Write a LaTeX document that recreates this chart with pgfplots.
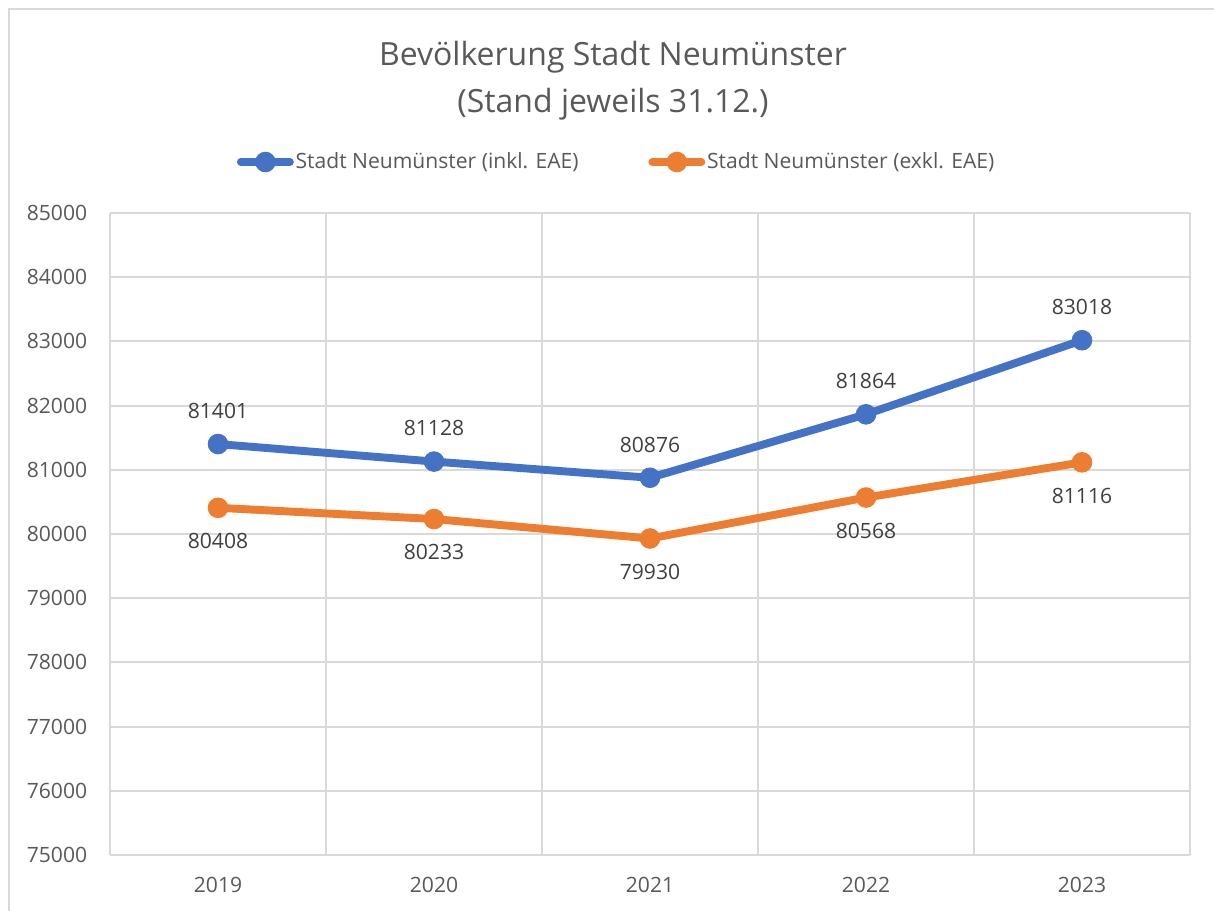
\documentclass[border=0pt]{standalone}
\usepackage{fontspec}
\setmainfont{Open Sans}
\usepackage{pgfplots}
\pgfplotsset{compat=1.18}
\definecolor{exblue}{HTML}{4472C4}
\definecolor{exorange}{HTML}{ED7D31}
\definecolor{gridgray}{HTML}{D9D9D9}
\definecolor{txtgray}{HTML}{595959}
\definecolor{lblgray}{HTML}{404040}

\begin{document}
\begin{tikzpicture}
% 1 px of the reference = 0.2mm
\path[use as bounding box] (0,0) rectangle (242.8mm,182.2mm);
\draw[gridgray, line width=1.1pt] (1.8mm,0) -- (1.8mm,180.4mm) -- (242.8mm,180.4mm);
\node[txtgray, anchor=base, inner sep=0, font=\fontsize{18.2}{21}\selectfont] at (122.6mm,169mm) {Bevölkerung Stadt Neumünster};
\node[txtgray, anchor=base, inner sep=0, font=\fontsize{18.2}{21}\selectfont] at (122.6mm,159.6mm) {(Stand jeweils 31.12.)};
\begin{axis}[
  at={(22mm,11.2mm)}, anchor=south west,
  width=216mm, height=128.4mm, scale only axis,
  xmin=-0.5, xmax=4.5, ymin=75000, ymax=85000,
  xtick={0,1,2,3,4},
  xticklabels={2019,2020,2021,2022,2023},
  ytick={75000,76000,...,85000},
  scaled y ticks=false,
  yticklabel={\pgfmathprintnumber[fixed,precision=0,1000 sep={}]{\tick}},
  minor xtick={-0.5,0.5,1.5,2.5,3.5,4.5},
  ymajorgrids=true, xminorgrids=true,
  grid style={gridgray, line width=1.1pt},
  minor grid style={gridgray, line width=1.1pt},
  axis line style={draw=none},
  major tick length=0pt, minor tick length=0pt,
  /pgf/number format/1000 sep={},
  /pgf/number format/assume math mode=true,
  tick label style={font=\fontsize{12}{14}\selectfont, text=txtgray, inner sep=0pt},
  yticklabel style={xshift=-4.5mm},
  xticklabel style={yshift=-4.4mm},
  clip=false,
  legend columns=2,
  legend cell align=left,
  legend style={at={(0.469,1.0794)}, anchor=center, draw=none, fill=none,
    font=\fontsize{12}{14}\selectfont, text=txtgray,
    nodes={inner sep=1pt},
    /tikz/every even column/.style={column sep=13.6mm}},
  legend image code/.code={
    \draw[mark repeat=2, mark phase=2, #1] plot coordinates {(0mm,0mm) (4.9mm,0mm) (9.8mm,0mm)};},
  every node near coord/.append style={font=\fontsize{12}{14}\selectfont, text=lblgray, inner sep=0pt},
]
\addplot[exblue, line width=4.5pt, line cap=round, line join=round,
  mark=*, mark size=5.6pt, mark options={line width=0.5pt, fill=exblue},
  point meta=explicit symbolic, nodes near coords,
  every node near coord/.append style={anchor=south, yshift=5mm}]
  coordinates {(0,81401) [81401] (1,81128) [81128] (2,80876) [80876] (3,81864) [81864] (4,83018) [83018]};
\addlegendentry{Stadt Neumünster (inkl. EAE)}
\addplot[exorange, line width=4.5pt, line cap=round, line join=round,
  mark=*, mark size=5.6pt, mark options={line width=0.5pt, fill=exorange},
  point meta=explicit symbolic, nodes near coords,
  every node near coord/.append style={anchor=north, yshift=-5mm}]
  coordinates {(0,80408) [80408] (1,80233) [80233] (2,79930) [79930] (3,80568) [80568] (4,81116) [81116]};
\addlegendentry{Stadt Neumünster (exkl. EAE)}
\end{axis}
\end{tikzpicture}
\end{document}
